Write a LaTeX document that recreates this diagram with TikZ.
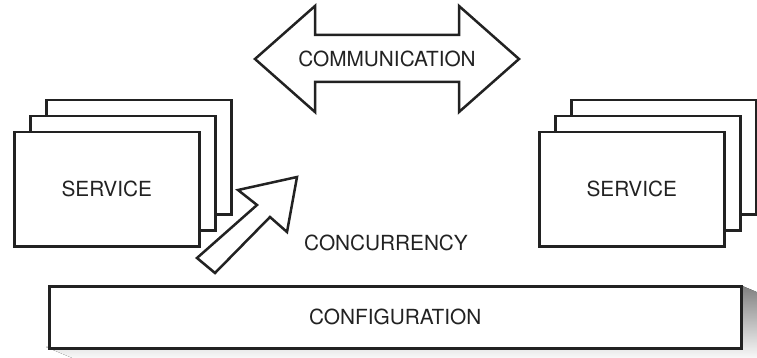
\documentclass[tikz,border=0pt]{standalone}
\usepackage{fontspec}
\setmainfont{TeX Gyre Heros}
\definecolor{ink}{HTML}{222222}
\definecolor{shade}{HTML}{B3B3B6}
\begin{document}
\begin{tikzpicture}[x=1pt,y=-1pt,
  outline/.style={draw=ink,line width=2.5pt,line join=miter},
  card/.style={outline,fill=white,minimum width=185pt,minimum height=114pt,
    anchor=north west,inner sep=0pt},
  label/.style={text=ink,font=\fontsize{20.8}{24}\selectfont,inner sep=0pt}]
\useasboundingbox (0,0) rectangle (757,358);
\clip (0,0) rectangle (757,358);

% left stack of service cards
\node[card] (sl3) at (45,99) {};
\node[card] (sl2) at (29,115) {};
\node[card] (sl1) at (13,131) {};
\node[label] (svcL) at (sl1.center) {SERVICE};

% right stack of service cards
\node[card] (sr3) at (570,99) {};
\node[card] (sr2) at (554,115) {};
\node[card] (sr1) at (538,131) {};
\node[label] (svcR) at (sr1.center) {SERVICE};

% two-headed communication arrow
\draw[outline,fill=white] (255,59) -- (315,6) -- (315,35) -- (459,35) -- (459,6)
  -- (519,59) -- (459,112) -- (459,82) -- (315,82) -- (315,112) -- cycle;
\node[label] (comm) at (387,59) {COMMUNICATION};

% concurrency arrow
\draw[outline,fill=white] (197,258) -- (215,273) -- (270,217) -- (287,232)
  -- (297,177) -- (238,190) -- (257,205) -- cycle;
\node[label] (conc) at (386,243) {CONCURRENCY};

% configuration bar with its drop shadow cast down and to the right
\fill[shade] (46,347) -- (82,362) -- (790,362) -- (790,306) -- (740,285) -- cycle;
\node[outline,fill=white,anchor=north west,minimum width=692pt,minimum height=62pt,
  inner sep=0pt] (cfg) at (48,285) {};
\node[label] (cfgtxt) at (cfg.center) {CONFIGURATION};
\end{tikzpicture}
\end{document}
